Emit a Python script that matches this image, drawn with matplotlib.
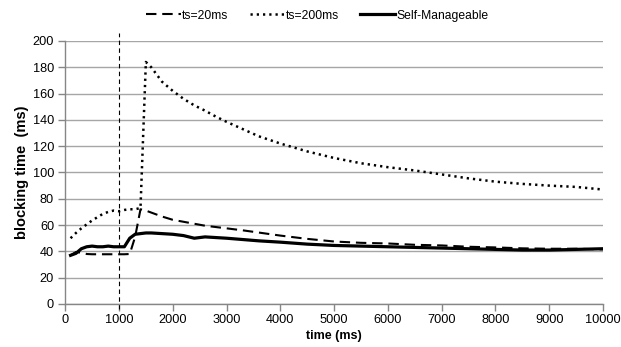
import matplotlib.pyplot as plt

plt.rcParams['font.family'] = ['Liberation Sans', 'DejaVu Sans']

# sampling times (ms)
time_ms = [100, 200, 300, 400, 500, 600, 700, 800, 900, 1000, 1100, 1200, 1300,
           1400, 1500, 1600, 1800, 2000, 2200, 2400, 2600, 2800, 3000, 3300,
           3600, 4000, 4500, 5000, 5500, 6000, 6500, 7000, 7500, 8000, 8500,
           9000, 9500, 10000]

# blocking time (ms) per policy
ts20 = [37, 39.5, 39, 38, 37.8, 37.8, 37.8, 37.8, 37.8, 37.8, 37.8, 38, 51,
        72, 71, 69.5, 66.5, 64, 62.5, 61, 59.5, 58.5, 57.5, 56,
        54.3, 52, 49.5, 47.5, 46.5, 46, 45, 44.5, 43.5, 43, 42.3,
        42, 42, 41.5]
ts200 = [50, 54, 57.5, 60.5, 63.5, 66, 68.5, 70, 71, 70.5, 71.5, 72, 72,
         73, 184, 180, 169, 162, 156, 151, 147, 142.5, 138.5, 133,
         127.5, 122, 116, 111, 107, 104, 101.5, 98.5, 95.5, 93, 91.3,
         90, 89, 87]
self_manageable = [37, 38.5, 42, 43.5, 44, 43.5, 43.5, 44, 43.5, 43.5, 43.5, 50, 53,
                   53.5, 54, 54, 53.5, 53, 52, 50, 51, 50.5, 50, 49,
                   48, 47, 45.5, 44.5, 44, 43.5, 43, 42.5, 42, 41.5, 41,
                   41, 41.5, 42]

switch_time = 1000

fig = plt.figure(figsize=(6.21, 3.47), dpi=100)
ax = fig.add_axes([0.105, 0.124, 0.866, 0.758])

ax.plot(time_ms, ts20, color='black', lw=1.5, linestyle=(0, (5, 2.8)),
        label='ts=20ms')
ax.plot(time_ms, ts200, color='black', lw=1.8, linestyle=(0, (0.9, 1.6)),
        label='ts=200ms')
ax.plot(time_ms, self_manageable, color='black', lw=2.3, label='Self-Manageable')

# moment of the load change
ax.plot([switch_time, switch_time], [-4, 206], color='black', lw=0.8,
        linestyle=(0, (4, 3)), clip_on=False)

ax.set_xlim(0, 10000)
ax.set_ylim(0, 200)
ax.set_xticks(range(0, 10001, 1000))
ax.set_yticks(range(0, 201, 20))

ax.grid(axis='y', color='#a6a6a6', lw=1.0)
ax.set_axisbelow(True)
for side in ['top', 'right']:
    ax.spines[side].set_visible(False)
for side in ['left', 'bottom']:
    ax.spines[side].set_color('#868686')
    ax.spines[side].set_linewidth(1.0)
ax.tick_params(axis='both', colors='#868686', labelcolor='black',
               labelsize=9.2, length=5, width=1.0)
ax.tick_params(axis='y', pad=3)
ax.tick_params(axis='x', pad=2)

ax.set_xlabel('time (ms)', fontsize=9, fontweight='bold', labelpad=3)
ax.set_ylabel('blocking time  (ms)', fontsize=10.5, fontweight='bold', labelpad=3)

fig.legend(loc='center', bbox_to_anchor=(0.511, 0.955), ncol=3, frameon=False,
           fontsize=8.7, handlelength=2.9, handletextpad=0.1, columnspacing=1.75)

fig.savefig('out.png', dpi=100)
